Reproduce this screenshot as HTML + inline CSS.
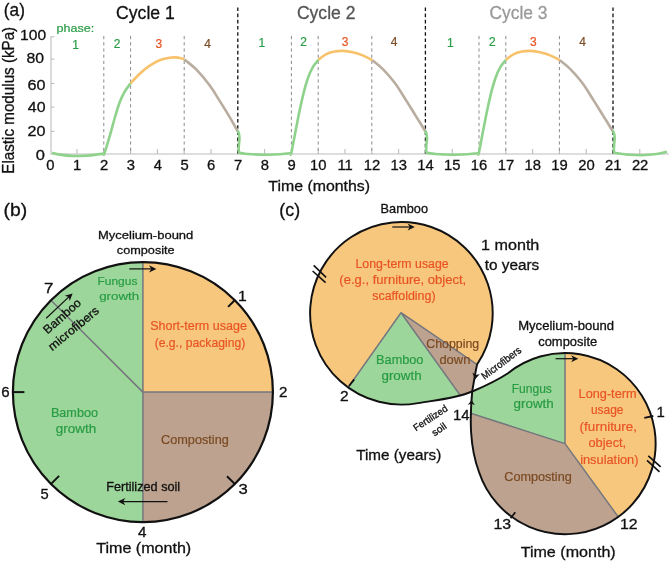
<!DOCTYPE html>
<html><head><meta charset="utf-8"><title>Figure</title>
<style>html,body{margin:0;padding:0;background:#fff}svg{display:block}text{font-family:'Liberation Sans',sans-serif}</style></head>
<body><svg width="669" height="562" viewBox="0 0 669 562">
<rect width="669" height="562" fill="#fff"/>
<path d="M51.0 36.3V154.0H669" fill="none" stroke="#bdbdbd" stroke-width="1.1"/>
<path d="M51.0 131.4h3.3" stroke="#bdbdbd" stroke-width="1.1"/>
<path d="M51.0 107.1h3.3" stroke="#bdbdbd" stroke-width="1.1"/>
<path d="M51.0 83.5h3.3" stroke="#bdbdbd" stroke-width="1.1"/>
<path d="M51.0 59.2h3.3" stroke="#bdbdbd" stroke-width="1.1"/>
<path d="M51.0 36.8h3.3" stroke="#bdbdbd" stroke-width="1.1"/>
<path d="M77.0 154.0v-5" stroke="#bdbdbd" stroke-width="1.1"/>
<path d="M103.8 154.0v-5" stroke="#bdbdbd" stroke-width="1.1"/>
<path d="M130.6 154.0v-5" stroke="#bdbdbd" stroke-width="1.1"/>
<path d="M157.4 154.0v-5" stroke="#bdbdbd" stroke-width="1.1"/>
<path d="M184.2 154.0v-5" stroke="#bdbdbd" stroke-width="1.1"/>
<path d="M211.0 154.0v-5" stroke="#bdbdbd" stroke-width="1.1"/>
<path d="M237.8 154.0v-5" stroke="#bdbdbd" stroke-width="1.1"/>
<path d="M264.6 154.0v-5" stroke="#bdbdbd" stroke-width="1.1"/>
<path d="M291.4 154.0v-5" stroke="#bdbdbd" stroke-width="1.1"/>
<path d="M318.2 154.0v-5" stroke="#bdbdbd" stroke-width="1.1"/>
<path d="M345.0 154.0v-5" stroke="#bdbdbd" stroke-width="1.1"/>
<path d="M371.8 154.0v-5" stroke="#bdbdbd" stroke-width="1.1"/>
<path d="M398.6 154.0v-5" stroke="#bdbdbd" stroke-width="1.1"/>
<path d="M425.4 154.0v-5" stroke="#bdbdbd" stroke-width="1.1"/>
<path d="M452.2 154.0v-5" stroke="#bdbdbd" stroke-width="1.1"/>
<path d="M479.0 154.0v-5" stroke="#bdbdbd" stroke-width="1.1"/>
<path d="M505.8 154.0v-5" stroke="#bdbdbd" stroke-width="1.1"/>
<path d="M532.6 154.0v-5" stroke="#bdbdbd" stroke-width="1.1"/>
<path d="M559.4 154.0v-5" stroke="#bdbdbd" stroke-width="1.1"/>
<path d="M586.2 154.0v-5" stroke="#bdbdbd" stroke-width="1.1"/>
<path d="M613.0 154.0v-5" stroke="#bdbdbd" stroke-width="1.1"/>
<path d="M639.8 154.0v-5" stroke="#bdbdbd" stroke-width="1.1"/>
<path d="M103.8 36V154.0" stroke="#8a8a8a" stroke-width="1" stroke-dasharray="3.2 3"/>
<path d="M130.6 36V154.0" stroke="#8a8a8a" stroke-width="1" stroke-dasharray="3.2 3"/>
<path d="M184.2 36V154.0" stroke="#8a8a8a" stroke-width="1" stroke-dasharray="3.2 3"/>
<path d="M291.4 36V154.0" stroke="#8a8a8a" stroke-width="1" stroke-dasharray="3.2 3"/>
<path d="M318.2 36V154.0" stroke="#8a8a8a" stroke-width="1" stroke-dasharray="3.2 3"/>
<path d="M371.8 36V154.0" stroke="#8a8a8a" stroke-width="1" stroke-dasharray="3.2 3"/>
<path d="M479.0 36V154.0" stroke="#8a8a8a" stroke-width="1" stroke-dasharray="3.2 3"/>
<path d="M505.8 36V154.0" stroke="#8a8a8a" stroke-width="1" stroke-dasharray="3.2 3"/>
<path d="M559.4 36V154.0" stroke="#8a8a8a" stroke-width="1" stroke-dasharray="3.2 3"/>
<path d="M237.8 7.4V154.0" stroke="#111" stroke-width="1.3" stroke-dasharray="3.6 2.6"/>
<path d="M425.4 7.4V154.0" stroke="#111" stroke-width="1.3" stroke-dasharray="3.6 2.6"/>
<path d="M613.0 7.4V154.0" stroke="#111" stroke-width="1.3" stroke-dasharray="3.6 2.6"/>
<text transform="translate(35.74 160.4) scale(1.0972 1)" font-size="15" fill="#111" stroke="#111" stroke-width="0.3">0</text>
<text transform="translate(27.49 135.8) scale(1.0797 1)" font-size="15" fill="#111" stroke="#111" stroke-width="0.3">20</text>
<text transform="translate(27.78 112.2) scale(1.0616 1)" font-size="15" fill="#111" stroke="#111" stroke-width="0.3">40</text>
<text transform="translate(27.49 90.4) scale(1.0797 1)" font-size="15" fill="#111" stroke="#111" stroke-width="0.3">60</text>
<text transform="translate(26.39 63.0) scale(1.0550 1)" font-size="15" fill="#111" stroke="#111" stroke-width="0.3">80</text>
<text transform="translate(20.03 39.9) scale(1.0418 1)" font-size="15" fill="#111" stroke="#111" stroke-width="0.3">100</text>
<text transform="translate(46.36 169.8) scale(1.0000 1)" font-size="14.8" fill="#111" stroke="#111" stroke-width="0.3">0</text>
<text transform="translate(72.97 169.8) scale(1.0000 1)" font-size="14.8" fill="#111" stroke="#111" stroke-width="0.3">1</text>
<text transform="translate(99.99 169.8) scale(1.0000 1)" font-size="14.8" fill="#111" stroke="#111" stroke-width="0.3">2</text>
<text transform="translate(126.79 169.8) scale(1.0000 1)" font-size="14.8" fill="#111" stroke="#111" stroke-width="0.3">3</text>
<text transform="translate(153.67 169.8) scale(1.0000 1)" font-size="14.8" fill="#111" stroke="#111" stroke-width="0.3">4</text>
<text transform="translate(180.39 169.8) scale(1.0000 1)" font-size="14.8" fill="#111" stroke="#111" stroke-width="0.3">5</text>
<text transform="translate(207.12 169.8) scale(1.0000 1)" font-size="14.8" fill="#111" stroke="#111" stroke-width="0.3">6</text>
<text transform="translate(233.99 169.8) scale(1.0000 1)" font-size="14.8" fill="#111" stroke="#111" stroke-width="0.3">7</text>
<text transform="translate(260.76 169.8) scale(1.0000 1)" font-size="14.8" fill="#111" stroke="#111" stroke-width="0.3">8</text>
<text transform="translate(287.59 169.8) scale(1.0000 1)" font-size="14.8" fill="#111" stroke="#111" stroke-width="0.3">9</text>
<text transform="translate(309.99 169.8) scale(1.0000 1)" font-size="14.8" fill="#111" stroke="#111" stroke-width="0.3">10</text>
<text transform="translate(337.42 169.8) scale(1.0000 1)" font-size="14.8" fill="#111" stroke="#111" stroke-width="0.3">11</text>
<text transform="translate(363.70 169.8) scale(1.0000 1)" font-size="14.8" fill="#111" stroke="#111" stroke-width="0.3">12</text>
<text transform="translate(390.43 169.8) scale(1.0000 1)" font-size="14.8" fill="#111" stroke="#111" stroke-width="0.3">13</text>
<text transform="translate(417.15 169.8) scale(1.0000 1)" font-size="14.8" fill="#111" stroke="#111" stroke-width="0.3">14</text>
<text transform="translate(444.03 169.8) scale(1.0000 1)" font-size="14.8" fill="#111" stroke="#111" stroke-width="0.3">15</text>
<text transform="translate(470.83 169.8) scale(1.0000 1)" font-size="14.8" fill="#111" stroke="#111" stroke-width="0.3">16</text>
<text transform="translate(497.70 169.8) scale(1.0000 1)" font-size="14.8" fill="#111" stroke="#111" stroke-width="0.3">17</text>
<text transform="translate(524.43 169.8) scale(1.0000 1)" font-size="14.8" fill="#111" stroke="#111" stroke-width="0.3">18</text>
<text transform="translate(551.26 169.8) scale(1.0000 1)" font-size="14.8" fill="#111" stroke="#111" stroke-width="0.3">19</text>
<text transform="translate(578.17 169.8) scale(1.0000 1)" font-size="14.8" fill="#111" stroke="#111" stroke-width="0.3">20</text>
<text transform="translate(605.05 169.8) scale(1.0000 1)" font-size="14.8" fill="#111" stroke="#111" stroke-width="0.3">21</text>
<text transform="translate(631.89 169.8) scale(1.0000 1)" font-size="14.8" fill="#111" stroke="#111" stroke-width="0.3">22</text>
<text transform="translate(14.30 100.10) rotate(-90) scale(0.9495 1) translate(-77.48 0)" font-size="16" fill="#111" stroke="#111" stroke-width="0.3">Elastic modulus (kPa)</text>
<text transform="translate(268.28 190.5) scale(1.0593 1)" font-size="15" fill="#111" stroke="#111" stroke-width="0.3">Time (months)</text>
<text transform="translate(3.86 15.7) scale(0.9870 1)" font-size="17.5" fill="#111" stroke="#111" stroke-width="0.3">(a)</text>
<text transform="translate(116.12 19.1) scale(0.9458 1)" font-size="18.6" fill="#111" stroke="#111" stroke-width="0.3">Cycle 1</text>
<text transform="translate(296.92 18.9) scale(0.9440 1)" font-size="18.6" fill="#555" stroke="#555" stroke-width="0.3">Cycle 2</text>
<text transform="translate(489.43 18.9) scale(0.9361 1)" font-size="18.6" fill="#9a9a9a" stroke="#9a9a9a" stroke-width="0.3">Cycle 3</text>
<text transform="translate(56.58 32.1) scale(1.0818 1)" font-size="11.6" fill="#289c44" stroke="#289c44" stroke-width="0.2">phase:</text>
<text transform="translate(72.29 48.6) scale(1.0000 1)" font-size="12" fill="#289c44" stroke="#289c44" stroke-width="0.2">1</text>
<text transform="translate(113.67 48.1) scale(1.0000 1)" font-size="12" fill="#289c44" stroke="#289c44" stroke-width="0.2">2</text>
<text transform="translate(155.47 48.2) scale(1.0000 1)" font-size="12" fill="#e85424" stroke="#e85424" stroke-width="0.2">3</text>
<text transform="translate(204.33 47.7) scale(1.0000 1)" font-size="12" fill="#7b4a22" stroke="#7b4a22" stroke-width="0.2">4</text>
<text transform="translate(258.49 47.2) scale(1.0000 1)" font-size="12" fill="#289c44" stroke="#289c44" stroke-width="0.2">1</text>
<text transform="translate(300.37 46) scale(1.0000 1)" font-size="12" fill="#289c44" stroke="#289c44" stroke-width="0.2">2</text>
<text transform="translate(341.67 46.2) scale(1.0000 1)" font-size="12" fill="#e85424" stroke="#e85424" stroke-width="0.2">3</text>
<text transform="translate(390.73 46) scale(1.0000 1)" font-size="12" fill="#7b4a22" stroke="#7b4a22" stroke-width="0.2">4</text>
<text transform="translate(446.99 47.2) scale(1.0000 1)" font-size="12" fill="#289c44" stroke="#289c44" stroke-width="0.2">1</text>
<text transform="translate(488.97 46) scale(1.0000 1)" font-size="12" fill="#289c44" stroke="#289c44" stroke-width="0.2">2</text>
<text transform="translate(530.07 46.2) scale(1.0000 1)" font-size="12" fill="#e85424" stroke="#e85424" stroke-width="0.2">3</text>
<text transform="translate(579.33 46.2) scale(1.0000 1)" font-size="12" fill="#7b4a22" stroke="#7b4a22" stroke-width="0.2">4</text>
<path d="M52.0 152.9C53.3 153.2 56.7 154.1 60.0 154.6C63.3 155.1 67.3 155.7 72.0 155.9C76.7 156.1 82.7 156.0 88.0 155.6C93.3 155.2 101.0 153.9 103.6 153.6" fill="none" stroke="#8fd28b" stroke-width="2.6" stroke-linecap="butt" stroke-linejoin="round"/>
<path d="M103.6 153.8C103.7 153.7 103.4 156.4 104.4 153.4C105.4 150.4 108.0 141.9 109.7 136.1C111.4 130.3 113.0 124.0 114.6 118.5C116.2 113.0 117.9 107.2 119.5 102.8C121.1 98.4 122.6 95.3 124.4 92.1C126.2 88.8 129.6 84.8 130.6 83.3" fill="none" stroke="#8fd28b" stroke-width="2.6" stroke-linecap="butt" stroke-linejoin="round"/>
<path d="M130.6 83.3C132.2 81.7 136.8 76.4 140.0 73.5C143.2 70.6 146.5 67.9 149.8 65.7C153.1 63.5 156.3 61.5 159.6 60.2C162.9 58.9 166.8 58.3 169.4 57.8C172.0 57.3 173.2 57.3 175.2 57.4C177.1 57.5 179.6 57.9 181.1 58.2C182.6 58.6 183.8 59.3 184.4 59.5" fill="none" stroke="#f8c26b" stroke-width="2.6" stroke-linecap="butt" stroke-linejoin="round"/>
<path d="M184.4 59.5C186.4 61.2 192.5 65.6 196.7 69.9C200.9 74.2 205.7 80.1 209.4 85.1C213.2 90.1 216.0 95.1 219.2 100.1C222.4 105.1 225.4 110.0 228.5 115.2C231.6 120.4 236.1 128.4 237.6 131.0" fill="none" stroke="#b9ada0" stroke-width="2.6" stroke-linecap="butt" stroke-linejoin="round"/>
<path d="M237.6 130.5C237.8 131.1 238.7 132.7 239.0 134.0C239.3 135.3 239.5 136.7 239.5 138.5C239.5 140.3 239.0 143.0 238.9 145.0C238.8 147.0 238.5 149.2 238.7 150.5C238.8 151.8 238.2 152.2 239.8 152.8C241.4 153.4 244.0 153.7 248.0 154.0C252.0 154.3 258.7 154.7 264.0 154.7C269.3 154.7 275.6 154.4 280.0 154.2C284.4 153.9 288.8 153.4 290.6 153.2" fill="none" stroke="#8fd28b" stroke-width="2.6" stroke-linecap="butt" stroke-linejoin="round"/>
<path d="M290.4 153.6C290.5 153.5 290.5 156.5 291.3 153.2C292.1 149.9 293.7 140.8 295.0 134.0C296.3 127.2 297.8 119.4 299.2 112.6C300.6 105.8 302.1 99.1 303.5 93.4C304.9 87.7 306.2 83.0 307.8 78.5C309.4 74.0 311.3 69.8 313.1 66.7C314.9 63.6 317.6 60.9 318.5 59.7" fill="none" stroke="#8fd28b" stroke-width="2.6" stroke-linecap="butt" stroke-linejoin="round"/>
<path d="M318.5 59.7C319.7 58.8 323.2 55.6 325.9 54.3C328.6 52.9 331.6 52.2 334.5 51.6C337.4 51.0 340.0 50.8 343.0 50.9C346.0 51.0 349.2 51.4 352.6 52.2C356.0 53.0 360.0 54.2 363.3 55.6C366.6 57.0 370.8 59.5 372.3 60.3" fill="none" stroke="#f8c26b" stroke-width="2.6" stroke-linecap="butt" stroke-linejoin="round"/>
<path d="M372.3 60.3C374.1 61.8 379.4 65.7 383.1 69.4C386.8 73.2 390.8 77.6 394.7 82.8C398.6 88.0 402.8 95.1 406.3 100.6C409.8 106.1 412.4 110.5 415.6 115.6C418.8 120.7 423.7 128.6 425.3 131.2" fill="none" stroke="#b9ada0" stroke-width="2.6" stroke-linecap="butt" stroke-linejoin="round"/>
<path d="M425.1 130.5C425.3 131.1 426.2 132.7 426.5 134.0C426.8 135.3 427.0 136.7 427.0 138.5C427.0 140.3 426.5 143.0 426.4 145.0C426.3 147.0 426.0 149.2 426.2 150.5C426.4 151.8 425.8 152.2 427.3 152.8C428.9 153.4 431.5 153.7 435.5 154.0C439.5 154.3 446.2 154.7 451.5 154.7C456.8 154.7 463.1 154.4 467.5 154.2C471.9 153.9 476.3 153.4 478.1 153.2" fill="none" stroke="#8fd28b" stroke-width="2.6" stroke-linecap="butt" stroke-linejoin="round"/>
<path d="M477.9 153.6C478.0 153.5 478.0 156.5 478.8 153.2C479.6 149.9 481.2 140.8 482.5 134.0C483.8 127.2 485.3 119.4 486.7 112.6C488.1 105.8 489.6 99.1 491.0 93.4C492.4 87.7 493.7 83.0 495.3 78.5C496.9 74.0 498.8 69.8 500.6 66.7C502.4 63.6 505.1 60.9 506.0 59.7" fill="none" stroke="#8fd28b" stroke-width="2.6" stroke-linecap="butt" stroke-linejoin="round"/>
<path d="M506.0 59.7C507.2 58.8 510.7 55.6 513.4 54.3C516.1 52.9 519.1 52.2 522.0 51.6C524.9 51.0 527.5 50.8 530.5 50.9C533.5 51.0 536.7 51.4 540.1 52.2C543.5 53.0 547.5 54.2 550.8 55.6C554.1 57.0 558.3 59.5 559.8 60.3" fill="none" stroke="#f8c26b" stroke-width="2.6" stroke-linecap="butt" stroke-linejoin="round"/>
<path d="M559.8 60.3C561.6 61.8 566.9 65.7 570.6 69.4C574.3 73.2 578.3 77.6 582.2 82.8C586.1 88.0 590.3 95.1 593.8 100.6C597.3 106.1 599.9 110.5 603.1 115.6C606.3 120.7 611.2 128.6 612.8 131.2" fill="none" stroke="#b9ada0" stroke-width="2.6" stroke-linecap="butt" stroke-linejoin="round"/>
<path d="M612.8 130.5C613.0 131.1 613.9 132.7 614.2 134.0C614.5 135.3 614.7 136.7 614.7 138.5C614.7 140.3 614.2 143.0 614.1 145.0C614.0 147.0 613.8 149.2 613.9 150.5C614.0 151.8 613.5 152.2 615.0 152.8C616.5 153.4 621.0 153.7 623.2 154.0C625.4 154.3 625.0 154.4 628.0 154.6C631.0 154.8 636.6 155.3 641.4 155.2C646.2 155.1 652.3 154.6 656.6 154.0C660.9 153.4 665.3 152.2 667.0 151.8" fill="none" stroke="#8fd28b" stroke-width="2.6" stroke-linecap="butt" stroke-linejoin="round"/>
<text transform="translate(3.44 215.6) scale(1.1065 1)" font-size="17.5" fill="#111" stroke="#111" stroke-width="0.3">(b)</text>
<path d="M142.9 392.1L142.90 262.10A130 130 0 0 1 272.90 392.10Z" fill="#f8c77e"/>
<path d="M142.9 392.1L272.90 392.10A130 130 0 0 1 142.90 522.10Z" fill="#bca28f"/>
<path d="M142.9 392.1L142.90 522.10A130 130 0 0 1 142.90 262.10Z" fill="#9dd69a"/>
<path d="M142.9 262.1V522.1M142.9 392.1H272.9M142.9 392.1L51.0 300.2" stroke="#74777d" stroke-width="1.5" fill="none"/>
<circle cx="142.9" cy="392.1" r="130" fill="none" stroke="#111" stroke-width="2.2"/>
<path d="M235.2 299.8L228.1 306.9" stroke="#111" stroke-width="2"/>
<path d="M235.2 484.4L227.0 476.2" stroke="#111" stroke-width="2"/>
<path d="M50.6 484.4L59.1 475.9" stroke="#111" stroke-width="2"/>
<path d="M12.4 392.1L24.4 392.1" stroke="#111" stroke-width="2"/>
<text transform="translate(237.93 300.8) scale(1.0562 1)" font-size="14.8" fill="#111" stroke="#111" stroke-width="0.3">1</text>
<text transform="translate(278.94 396.6) scale(1.0247 1)" font-size="14.8" fill="#111" stroke="#111" stroke-width="0.3">2</text>
<text transform="translate(238.53 493.7) scale(1.1470 1)" font-size="14.5" fill="#111" stroke="#111" stroke-width="0.3">3</text>
<text transform="translate(137.90 537.4) scale(1.0891 1)" font-size="14" fill="#111" stroke="#111" stroke-width="0.3">4</text>
<text transform="translate(40.51 498.9) scale(0.9957 1)" font-size="14.8" fill="#111" stroke="#111" stroke-width="0.3">5</text>
<text transform="translate(1.25 396.5) scale(1.0171 1)" font-size="14.8" fill="#111" stroke="#111" stroke-width="0.3">6</text>
<text transform="translate(44.05 292.7) scale(1.1435 1)" font-size="14.8" fill="#111" stroke="#111" stroke-width="0.3">7</text>
<text transform="translate(97.96 238.5) scale(1.1032 1)" font-size="11.8" fill="#111" stroke="#111" stroke-width="0.3">Mycelium-bound</text>
<text transform="translate(116.79 254.2) scale(1.0769 1)" font-size="11.8" fill="#111" stroke="#111" stroke-width="0.3">composite</text>
<text transform="translate(97.54 285.1) scale(1.0133 1)" font-size="11.8" fill="#289c44" stroke="#289c44" stroke-width="0.2">Fungus</text>
<text transform="translate(99.17 300.3) scale(1.1299 1)" font-size="11.8" fill="#289c44" stroke="#289c44" stroke-width="0.2">growth</text>
<text transform="translate(150.14 330.1) scale(1.0180 1)" font-size="12.3" fill="#e85424" stroke="#e85424" stroke-width="0.2">Short-term usage</text>
<text transform="translate(154.67 346.6) scale(0.9900 1)" font-size="12.3" fill="#e85424" stroke="#e85424" stroke-width="0.2">(e.g., packaging)</text>
<text transform="translate(161.06 444.1) scale(1.0497 1)" font-size="12.1" fill="#7b4a22" stroke="#7b4a22" stroke-width="0.2">Composting</text>
<text transform="translate(50.89 416.5) scale(1.0306 1)" font-size="12.3" fill="#289c44" stroke="#289c44" stroke-width="0.2">Bamboo</text>
<text transform="translate(55.86 433) scale(1.0924 1)" font-size="12.3" fill="#289c44" stroke="#289c44" stroke-width="0.2">growth</text>
<text transform="translate(106.18 490.8) scale(1.0401 1)" font-size="12.2" fill="#111" stroke="#111" stroke-width="0.3">Fertilized soil</text>
<text transform="translate(96.28 553.4) scale(1.1094 1)" font-size="14.5" fill="#111" stroke="#111" stroke-width="0.3">Time (month)</text>
<text transform="translate(65.00 319.00) rotate(-41.5) scale(1.0287 1) translate(-22.59 0)" font-size="12" fill="#111" stroke="#111" stroke-width="0.3">Bamboo</text>
<text transform="translate(76.30 331.50) rotate(-39.5) scale(1.0525 1) translate(-29.52 0)" font-size="12" fill="#111" stroke="#111" stroke-width="0.3">microfibers</text>
<path d="M129.3 268.9L152.0 268.9" stroke="#111" stroke-width="1.2"/>
<path d="M156.4 268.9L149.0 272.5L151.2 268.9L149.0 265.3Z" fill="#111"/>
<path d="M167.5 501.6L122.3 501.6" stroke="#111" stroke-width="1.2"/>
<path d="M117.9 501.6L125.3 498.0L123.1 501.6L125.3 505.2Z" fill="#111"/>
<path d="M46.2 318.2L69.4 296.4" stroke="#111" stroke-width="1.2"/>
<path d="M72.6 293.4L69.7 301.1L68.8 296.9L64.7 295.8Z" fill="#111"/>
<text transform="translate(279.33 215.6) scale(1.0171 1)" font-size="17.5" fill="#111" stroke="#111" stroke-width="0.3">(c)</text>
<defs><clipPath id="cb1"><path d="M418.0 403.1 A91.3 91.3 0 1 1 477.2 364.2 C475.8 368.8 473.8 382.5 472.2 391.5 C455.6 398.5 435.6 400.2 418.0 403.1Z"/></clipPath><clipPath id="cb2"><path d="M508.0 373.2 A90.6 90.6 0 1 1 479.0 472.0 C469.4 446.4 469.8 418.5 472.2 391.5 C483.2 386.8 498.6 379.4 508.0 373.2Z"/></clipPath></defs>
<g clip-path="url(#cb1)"><rect x="300" y="215" width="200" height="200" fill="#f8c77e"/>
<path d="M401.0 312.7L488.8 435.2L522.3 395.3Z" fill="#bca28f"/>
<path d="M401.0 312.7L323.9 421.8L488.8 435.2Z" fill="#9dd69a"/>
<path d="M323.9 421.8L401.0 312.7L488.8 435.2M401.0 312.7L522.3 395.3" fill="none" stroke="#74777d" stroke-width="1.5" stroke-linejoin="round"/>
</g>
<g clip-path="url(#cb2)"><rect x="460" y="340" width="209" height="210" fill="#bca28f"/>
<path d="M565.0 443.6L443.1 404.3L440 340L565.0 340Z" fill="#9dd69a"/>
<path d="M565.0 443.6L565.0 340L669 340L669 560L639.2 545.7Z" fill="#f8c77e"/>
<path d="M565.0 340L565.0 443.6L443.1 404.3M565.0 443.6L639.2 545.7" fill="none" stroke="#74777d" stroke-width="1.5" stroke-linejoin="round"/>
</g>
<path d="M418.0 403.1 A91.3 91.3 0 1 1 477.2 364.2 C475.8 368.8 473.8 382.5 472.2 391.5 C455.6 398.5 435.6 400.2 418.0 403.1Z" fill="none" stroke="#111" stroke-width="1.95"/>
<path d="M508.0 373.2 A90.6 90.6 0 1 1 479.0 472.0 C469.4 446.4 469.8 418.5 472.2 391.5 C483.2 386.8 498.6 379.4 508.0 373.2Z" fill="none" stroke="#111" stroke-width="1.95"/>
<path d="M313.7 265.4L326.1 277.4" stroke="#111" stroke-width="1.6"/>
<path d="M312.6 271L325.6 282.7" stroke="#111" stroke-width="1.6"/>
<path d="M648.3 455.8L660.7 466.9" stroke="#111" stroke-width="1.6"/>
<path d="M647 460.3L659.5 471.9" stroke="#111" stroke-width="1.6"/>
<path d="M644.3 417.9L653.3 416.0" stroke="#111" stroke-width="1.8"/>
<path d="M349.0 386.0L354.2 379.4" stroke="#111" stroke-width="1.8"/>
<path d="M510.6 518.3L515.3 512.3" stroke="#111" stroke-width="1.8"/>
<path d="M475.0 379.4L472.3 372.6L475.8 375.1L479.8 374.0Z" fill="#111"/>
<path d="M471.6 399.9L474.9 405.3L471.4 403.5L467.7 404.9Z" fill="#111"/>
<text transform="translate(380.58 213.4) scale(1.0610 1)" font-size="12" fill="#111" stroke="#111" stroke-width="0.3">Bamboo</text>
<text transform="translate(480.99 250.2) scale(1.0778 1)" font-size="15" fill="#111" stroke="#111" stroke-width="0.3">1 month</text>
<text transform="translate(484.67 270.4) scale(1.0233 1)" font-size="15" fill="#111" stroke="#111" stroke-width="0.3">to years</text>
<text transform="translate(355.51 267.9) scale(1.0027 1)" font-size="12.3" fill="#e85424" stroke="#e85424" stroke-width="0.2">Long-term usage</text>
<text transform="translate(339.32 284) scale(1.0617 1)" font-size="12.3" fill="#e85424" stroke="#e85424" stroke-width="0.2">(e.g., furniture, object,</text>
<text transform="translate(372.23 300.4) scale(1.0120 1)" font-size="12.3" fill="#e85424" stroke="#e85424" stroke-width="0.2">scaffolding)</text>
<text transform="translate(376.08 364.3) scale(1.0351 1)" font-size="12.3" fill="#289c44" stroke="#289c44" stroke-width="0.2">Bamboo</text>
<text transform="translate(381.46 380.4) scale(1.0896 1)" font-size="12.3" fill="#289c44" stroke="#289c44" stroke-width="0.2">growth</text>
<text transform="translate(426.28 348.4) scale(1.0135 1)" font-size="12.2" fill="#7b4a22" stroke="#7b4a22" stroke-width="0.2">Chopping</text>
<text transform="translate(439.38 364.1) scale(1.0618 1)" font-size="12.2" fill="#7b4a22" stroke="#7b4a22" stroke-width="0.2">down</text>
<text transform="translate(340.02 400.6) scale(1.1146 1)" font-size="14" fill="#111" stroke="#111" stroke-width="0.3">2</text>
<text transform="translate(452.88 419.6) scale(1.0365 1)" font-size="14.4" fill="#111" stroke="#111" stroke-width="0.3">14</text>
<text transform="translate(356.19 459.7) scale(1.0176 1)" font-size="15" fill="#111" stroke="#111" stroke-width="0.3">Time (years)</text>
<text transform="translate(518.15 329.8) scale(1.0739 1)" font-size="12.2" fill="#111" stroke="#111" stroke-width="0.3">Mycelium-bound</text>
<text transform="translate(538.18 346) scale(1.0617 1)" font-size="12.2" fill="#111" stroke="#111" stroke-width="0.3">composite</text>
<text transform="translate(511.74 392.7) scale(0.9796 1)" font-size="12.3" fill="#289c44" stroke="#289c44" stroke-width="0.2">Fungus</text>
<text transform="translate(513.56 408.2) scale(1.0896 1)" font-size="12.3" fill="#289c44" stroke="#289c44" stroke-width="0.2">growth</text>
<text transform="translate(578.58 398.3) scale(1.0183 1)" font-size="12.5" fill="#e85424" stroke="#e85424" stroke-width="0.2">Long-term</text>
<text transform="translate(590.92 413.6) scale(0.9576 1)" font-size="12.5" fill="#e85424" stroke="#e85424" stroke-width="0.2">usage</text>
<text transform="translate(579.60 431) scale(1.0731 1)" font-size="12.5" fill="#e85424" stroke="#e85424" stroke-width="0.2">(furniture,</text>
<text transform="translate(588.49 447) scale(1.0241 1)" font-size="12.5" fill="#e85424" stroke="#e85424" stroke-width="0.2">object,</text>
<text transform="translate(580.17 463.6) scale(1.0239 1)" font-size="12.5" fill="#e85424" stroke="#e85424" stroke-width="0.2">insulation)</text>
<text transform="translate(504.27 480.6) scale(1.0212 1)" font-size="12.4" fill="#7b4a22" stroke="#7b4a22" stroke-width="0.2">Composting</text>
<text transform="translate(656.38 416.7) scale(1.0673 1)" font-size="14" fill="#111" stroke="#111" stroke-width="0.3">1</text>
<text transform="translate(620.01 529.2) scale(1.1153 1)" font-size="14.2" fill="#111" stroke="#111" stroke-width="0.3">12</text>
<text transform="translate(493.51 529.2) scale(1.1183 1)" font-size="14.2" fill="#111" stroke="#111" stroke-width="0.3">13</text>
<text transform="translate(520.68 556.6) scale(1.0724 1)" font-size="15" fill="#111" stroke="#111" stroke-width="0.3">Time (month)</text>
<text transform="translate(503.60 365.60) rotate(-37) scale(0.9353 1) translate(-25.42 0)" font-size="10.3" fill="#111" stroke="#111" stroke-width="0.3">Microfibers</text>
<text transform="translate(432.20 420.80) rotate(-33.5) scale(0.9787 1) translate(-19.94 0)" font-size="9.8" fill="#111" stroke="#111" stroke-width="0.3">Fertilized</text>
<text transform="translate(440.80 432.20) rotate(-34.5) scale(1.0531 1) translate(-7.18 0)" font-size="9.8" fill="#111" stroke="#111" stroke-width="0.3">soil</text>
<path d="M392.3 227.0L410.5 227.0" stroke="#111" stroke-width="1.2"/>
<path d="M414.8 227.0L407.6 230.5L409.8 227.0L407.6 223.5Z" fill="#111"/>
<path d="M555.6 358.7L574.0 358.7" stroke="#111" stroke-width="1.2"/>
<path d="M578.3 358.7L571.1 362.2L573.3 358.7L571.1 355.2Z" fill="#111"/>
</svg></body></html>
